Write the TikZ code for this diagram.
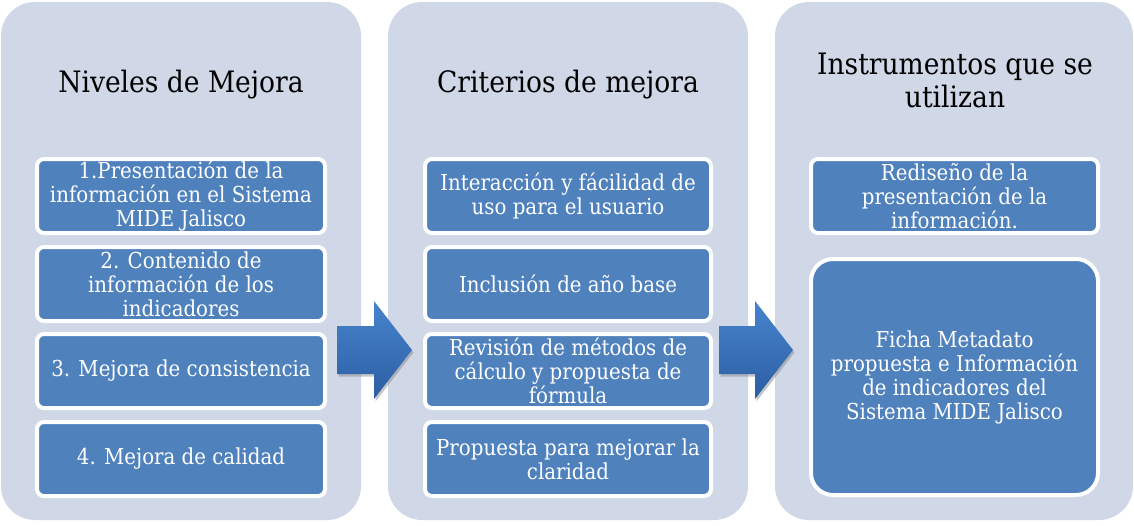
\documentclass[tikz,border=0pt]{standalone}
\usepackage{fontspec}
\setmainfont{DejaVu Serif Condensed}
\definecolor{panelfill}{HTML}{D0D8E8}
\definecolor{boxblue}{HTML}{4F81BD}
\definecolor{arrowtop}{HTML}{4784CD}
\definecolor{arrowbot}{HTML}{2C5EA3}
\tikzset{
  panel/.style={fill=panelfill, rounded corners=34pt, minimum width=360pt, minimum height=518pt, inner sep=0pt, outer sep=0pt},
  paneltitle/.style={font=\fontsize{29.5}{33}\selectfont, text=black, align=center, inner sep=0pt},
  item/.style={fill=boxblue, draw=white, line width=4pt, rounded corners=7pt, minimum width=288pt, minimum height=74pt, text=white, font=\fontsize{22}{24}\selectfont, align=center, inner sep=0pt},
  bigitem/.style={item, rounded corners=22pt, minimum height=236pt},
  blockarrow/.style={top color=arrowtop, bottom color=arrowbot, draw=none},
  arrowshadow/.style={fill=gray, opacity=0.45, draw=none},
}
\begin{document}
\begin{tikzpicture}[x=1pt, y=-1pt]
\useasboundingbox (0,0) rectangle (1134,525);
% panels
\node[panel] (p1) at (181,261) {};
\node[panel] (p2) at (568,261) {};
\node[panel, minimum width=358pt] (p3) at (954,261) {};
% titles
\node[paneltitle, anchor=base] (t1) at (181,92) {Niveles de Mejora};
\node[paneltitle, anchor=base] (t2) at (568,92) {Criterios de mejora};
\node[paneltitle] (t3) at (955,80) {Instrumentos que se\\utilizan};
% column 1
\node[item] (a1) at (181,196) {1.Presentación de la\\información en el Sistema\\MIDE Jalisco};
\node[item] (a2) at (181,284) {2. Contenido de\\información de los\\indicadores};
\node[item] (a3) at (181,371) {3. Mejora de consistencia};
\node[item] (a4) at (181,459) {4. Mejora de calidad};
% column 2
\node[item, minimum width=286pt] (b1) at (568,196) {Interacción y fácilidad de\\uso para el usuario};
\node[item, minimum width=286pt] (b2) at (568,284) {Inclusión de año base};
\node[item, minimum width=286pt] (b3) at (568,371) {Revisión de métodos de\\cálculo y propuesta de\\fórmula};
\node[item, minimum width=286pt] (b4) at (568,459) {Propuesta para mejorar la\\claridad};
% column 3
\node[item, minimum width=287pt] (c1) at (954.5,196) {Rediseño de la\\presentación de la\\información.};
\node[bigitem, minimum width=287pt] (c2) at (954.5,377) {Ficha Metadato\\propuesta e Información\\de indicadores del\\Sistema MIDE Jalisco};
% block arrows
\begin{scope}[shift={(1.5,2.5)}]
  \fill[arrowshadow] (337,326) -- (374,326) -- (374,301) -- (412,350) -- (374,399) -- (374,374) -- (337,374) -- cycle;
  \fill[arrowshadow] (719,326) -- (755,326) -- (755,301) -- (793,350) -- (755,399) -- (755,374) -- (719,374) -- cycle;
\end{scope}
\shade[blockarrow] (337,326) -- (374,326) -- (374,301) -- (412,350) -- (374,399) -- (374,374) -- (337,374) -- cycle;
\shade[blockarrow] (719,326) -- (755,326) -- (755,301) -- (793,350) -- (755,399) -- (755,374) -- (719,374) -- cycle;
\end{tikzpicture}
\end{document}
